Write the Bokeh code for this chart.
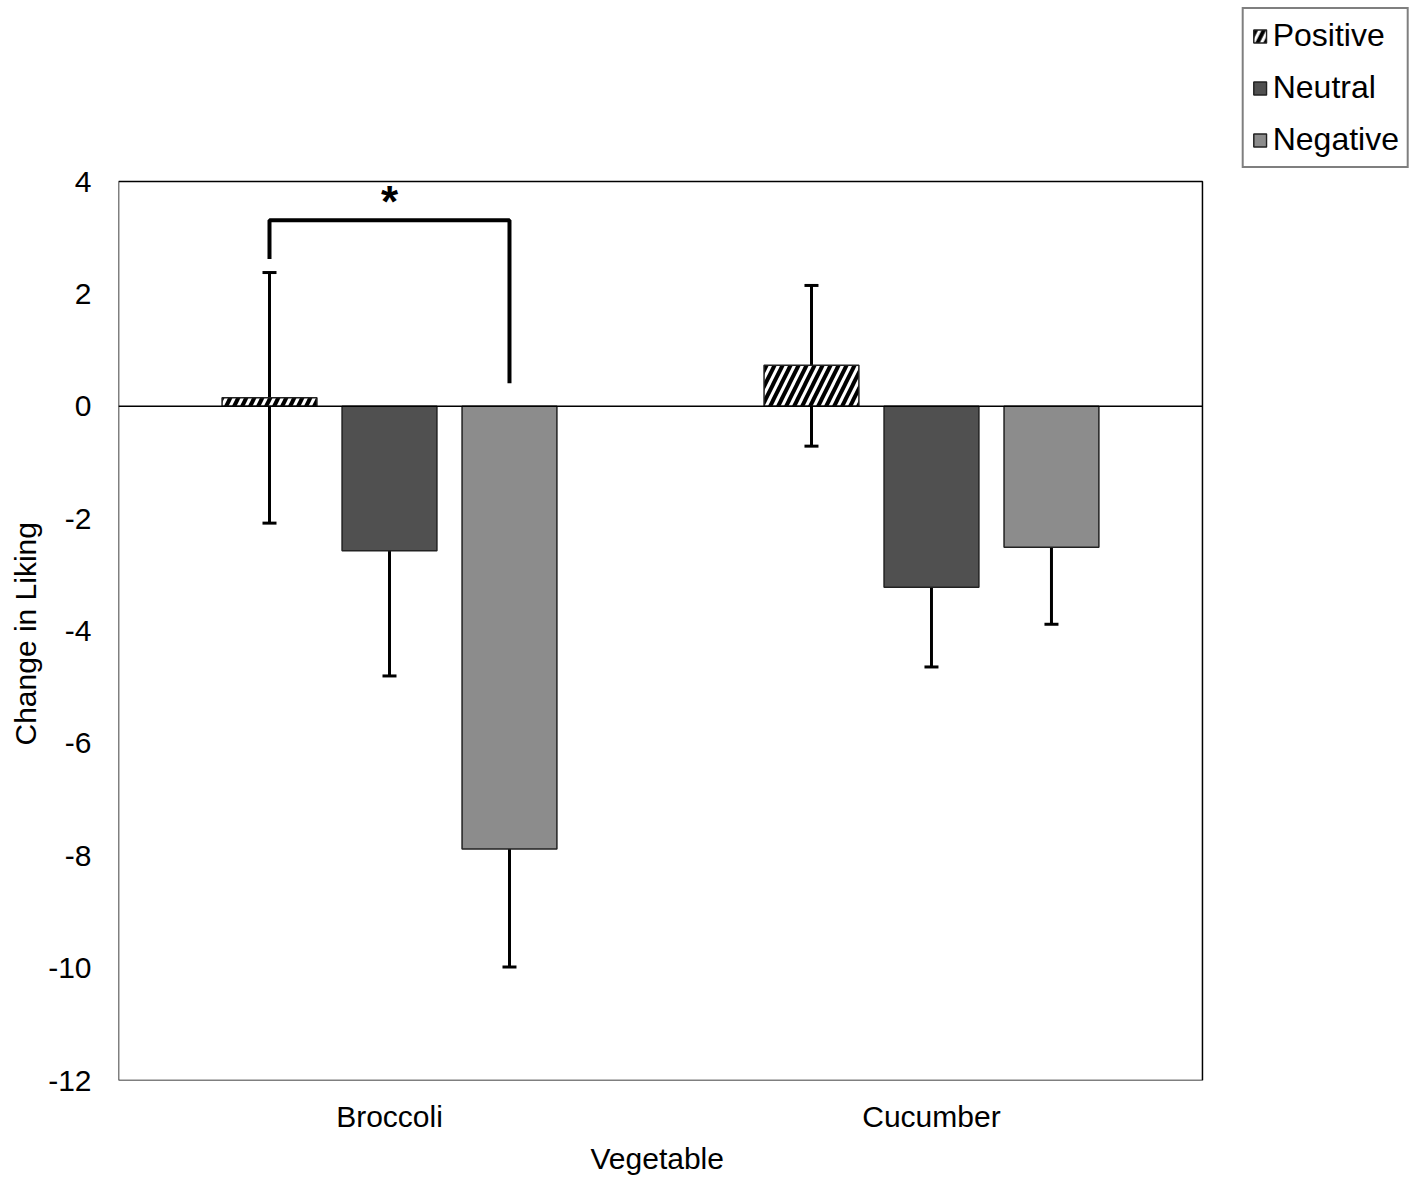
from bokeh.plotting import figure
from bokeh.models import (ColumnDataSource, Range1d, FixedTicker, Whisker, TeeHead,
                          Legend, LegendItem, BoxAnnotation, Title)
from bokeh.core.properties import value
from bokeh.embed import file_html
from bokeh.resources import INLINE

vegetables = ["Broccoli", "Cucumber"]
groups = ["Positive", "Neutral", "Negative"]
positive = [0.15, 0.73]
neutral = [-2.57, -3.22]
negative = [-7.88, -2.51]
positive_err = [(-2.08, 2.38), (-0.71, 2.15)]
neutral_err = [(-4.80, -0.39), (-4.64, -1.80)]
negative_err = [(-9.98, -5.78), (-3.88, -1.14)]
y_ticks = [4, 2, 0, -2, -4, -6, -8, -10, -12]
y_tick_labels = ["4", "2", "0", "-2", "-4", "-6", "-8", "-10", "-12"]
bracket_y = [2.62, 3.31, 3.31, 0.41]
star_y = 3.64

FONT = "Liberation Sans"
X0, X1 = 0, 2          # plotted box, category axis
Y0, Y1 = -12, 4        # plotted box, value axis
centers = [0.5, 1.5]
offsets = [-0.2214, 0.0, 0.2214]
bar_w = 0.175

styles = [
    dict(fill_color="white", hatch_pattern="/", hatch_color="black", hatch_scale=16, hatch_weight=4),
    dict(fill_color="#505050"),
    dict(fill_color="#8c8c8c"),
]
vals = [positive, neutral, negative]
errs = [positive_err, neutral_err, negative_err]

# the frame is extended up and to the right so that the legend (outside the drawn box) stays visible
p = figure(width=1409, height=1181, output_backend="svg", toolbar_location=None,
           x_range=Range1d(X0, 2.382), y_range=Range1d(Y0, 7.097),
           min_border_left=118, min_border_right=0, min_border_top=7, min_border_bottom=101)
p.xgrid.visible = False
p.ygrid.visible = False
p.outline_line_color = None
p.background_fill_color = "white"
p.border_fill_color = "white"

renderers = []
for i, g in enumerate(groups):
    xs = [c + offsets[i] for c in centers]
    src = ColumnDataSource(dict(x=xs, top=vals[i]))
    r = p.vbar(x="x", top="top", bottom=0, width=bar_w, source=src,
               line_color="#222222", line_width=1.5, **styles[i])
    renderers.append(r)

p.segment(x0=[X0], x1=[X1], y0=[0], y1=[0], line_color="black", line_width=1.5)
p.add_layout(BoxAnnotation(left=X0, right=X1, bottom=Y0, top=Y1, fill_alpha=0,
                           line_color="black", line_width=1.5, line_alpha=1))

for i, g in enumerate(groups):
    xs = [c + offsets[i] for c in centers]
    src = ColumnDataSource(dict(x=xs, lower=[e[0] for e in errs[i]], upper=[e[1] for e in errs[i]]))
    w = Whisker(base="x", upper="upper", lower="lower", source=src, line_width=3, line_color="black",
                upper_head=TeeHead(size=14, line_width=3, line_color="black"),
                lower_head=TeeHead(size=14, line_width=3, line_color="black"))
    p.add_layout(w)

bx = [centers[0] + offsets[0], centers[0] + offsets[0], centers[0] + offsets[2], centers[0] + offsets[2]]
p.line(bx, bracket_y, line_color="black", line_width=4)
p.text(x=[centers[0]], y=[star_y], text=["*"], text_font=value(FONT), text_font_size="44px",
       text_font_style="bold", text_align="center", text_baseline="middle", text_color="black")

p.xaxis.ticker = FixedTicker(ticks=centers)
p.xaxis.major_label_overrides = {centers[0]: vegetables[0], centers[1]: vegetables[1]}
p.yaxis.ticker = FixedTicker(ticks=y_ticks)
p.yaxis.major_label_overrides = dict(zip(y_ticks, y_tick_labels))
for ax in (p.xaxis[0], p.yaxis[0]):
    ax.axis_line_color = None
    ax.major_tick_line_color = None
    ax.minor_tick_line_color = None
    ax.major_tick_out = 0
    ax.major_tick_in = 0
    ax.minor_tick_out = 0
    ax.minor_tick_in = 0
    ax.major_label_text_font = FONT
    ax.major_label_text_font_size = "30px"
    ax.major_label_text_color = "black"
p.xaxis.major_label_standoff = 19
p.yaxis.major_label_standoff = 27

# axis titles placed along the drawn box (not the extended frame)
p.add_layout(Title(text="Change in Liking", align="left", offset=335, text_font=FONT,
                   text_font_size="30px", text_font_style="normal", text_color="black",
                   standoff=8), "left")
p.add_layout(Title(text="Vegetable", align="left", offset=472, text_font=FONT,
                   text_font_size="30px", text_font_style="normal", text_color="black",
                   standoff=8), "below")

legend = Legend(items=[LegendItem(label=g, renderers=[r]) for g, r in zip(groups, renderers)],
                location="top_right", orientation="vertical",
                label_text_font=FONT, label_text_font_size="32px", label_text_color="black",
                glyph_width=16, glyph_height=16, label_height=30, spacing=15,
                padding=8, margin=0, label_standoff=5,
                border_line_color="black", border_line_width=2,
                background_fill_color="white", background_fill_alpha=1)
p.add_layout(legend, "center")

open("out.html", "w").write(file_html(p, INLINE))
